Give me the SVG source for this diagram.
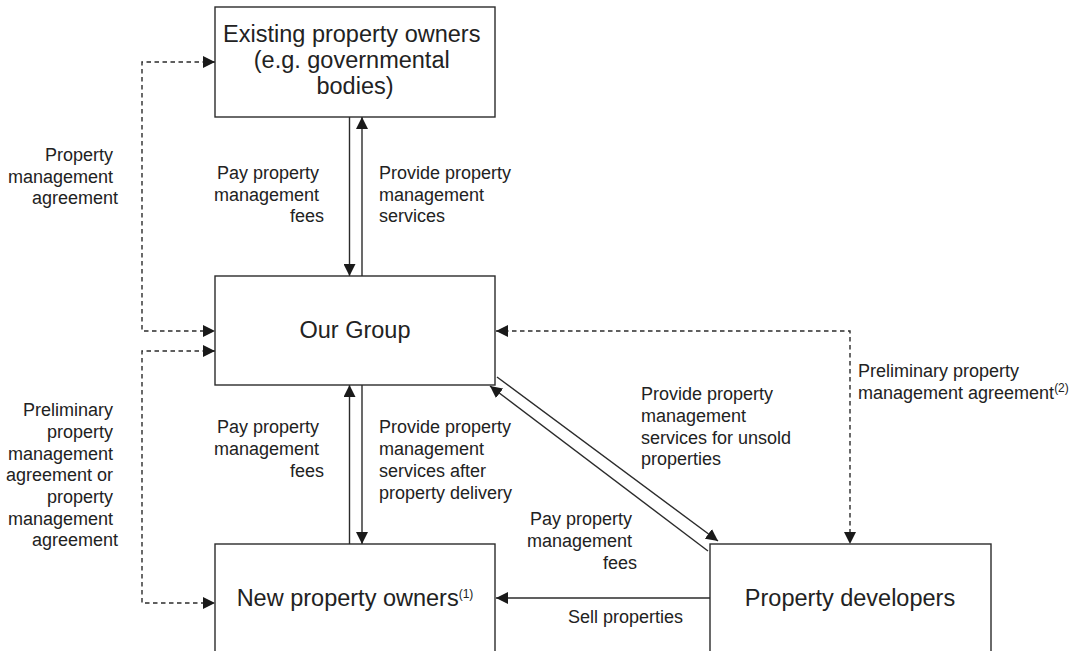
<svg xmlns="http://www.w3.org/2000/svg" width="1079" height="651" viewBox="0 0 1079 651">
  <style>
    .box { fill: #fff; stroke: #2b2b2b; stroke-width: 1.4; }
    .node { font-family: "Liberation Sans", Arial, sans-serif; font-size: 23.5px; fill: #222; }
    .lbl { font-family: "Liberation Sans", Arial, sans-serif; font-size: 18px; fill: #222; }
    .sup { font-size: 12px; }
    .solid { fill: none; stroke: #2b2b2b; stroke-width: 1.4; marker-end: url(#ah); }
    .dash { fill: none; stroke: #2b2b2b; stroke-width: 1.4; stroke-dasharray: 4.5 3.5; marker-start: url(#ah); marker-end: url(#ah); }
  </style>
  <defs>
    <marker id="ah" viewBox="0 0 12 12" markerWidth="12" markerHeight="12" refX="12" refY="6" orient="auto-start-reverse" markerUnits="userSpaceOnUse">
      <path d="M0,0 L12,6 L0,12 z" fill="#1a1a1a"/>
    </marker>
  </defs>
  <rect width="1079" height="651" fill="#fff"/>

  <!-- connectors -->
  <g id="connectors">
    <!-- existing owners <-> group -->
    <path class="solid" d="M349.5,117 V276"/>
    <path class="solid" d="M362,276 V117"/>
    <!-- group <-> new owners -->
    <path class="solid" d="M349.5,544 V385"/>
    <path class="solid" d="M362,385 V544"/>
    <!-- group <-> developers -->
    <path class="solid" d="M497,377 L718,541"/>
    <path class="solid" d="M708,551 L490,386"/>
    <!-- developers -> new owners -->
    <path class="solid" d="M710,598 H496"/>
    <!-- agreements -->
    <path class="dash" d="M215,62 H142 V331 H215"/>
    <path class="dash" d="M215,351 H142 V603 H215"/>
    <path class="dash" d="M496,331 H850 V544"/>
  </g>

  <g id="existing-owners">
    <rect class="box" x="215" y="7" width="280" height="110"/>
    <text class="node" text-anchor="middle">
      <tspan x="355" y="42">Existing property owners</tspan>
      <tspan x="355" y="68">(e.g. governmental</tspan>
      <tspan x="355" y="94">bodies)</tspan>
    </text>
  </g>

  <g id="our-group">
    <rect class="box" x="215" y="276" width="280" height="109"/>
    <text class="node" x="355" y="338" text-anchor="middle">Our Group</text>
  </g>

  <g id="new-owners">
    <rect class="box" x="215" y="544" width="280" height="120"/>
    <text class="node" x="355" y="606" text-anchor="middle">New property owners<tspan class="sup" dy="-8">(1)</tspan></text>
  </g>

  <g id="developers">
    <rect class="box" x="710" y="544" width="281" height="120"/>
    <text class="node" x="850" y="606" text-anchor="middle">Property developers</text>
  </g>

  <g id="labels">
    <text class="lbl" text-anchor="end">
      <tspan x="324" y="179">Pay property</tspan>
      <tspan x="324" y="200.5">management</tspan>
      <tspan x="324" y="222">fees</tspan>
    </text>
    <text class="lbl">
      <tspan x="379" y="179">Provide property</tspan>
      <tspan x="379" y="200.5">management</tspan>
      <tspan x="379" y="222">services</tspan>
    </text>
    <text class="lbl" text-anchor="end">
      <tspan x="118" y="161">Property</tspan>
      <tspan x="118" y="183">management</tspan>
      <tspan x="118" y="204">agreement</tspan>
    </text>
    <text class="lbl" text-anchor="end">
      <tspan x="118" y="416">Preliminary</tspan>
      <tspan x="118" y="438">property</tspan>
      <tspan x="118" y="459.5">management</tspan>
      <tspan x="118" y="481">agreement or</tspan>
      <tspan x="118" y="503">property</tspan>
      <tspan x="118" y="524.5">management</tspan>
      <tspan x="118" y="546">agreement</tspan>
    </text>
    <text class="lbl" text-anchor="end">
      <tspan x="324" y="433">Pay property</tspan>
      <tspan x="324" y="455">management</tspan>
      <tspan x="324" y="477">fees</tspan>
    </text>
    <text class="lbl">
      <tspan x="379" y="433">Provide property</tspan>
      <tspan x="379" y="455">management</tspan>
      <tspan x="379" y="477">services after</tspan>
      <tspan x="379" y="499">property delivery</tspan>
    </text>
    <text class="lbl">
      <tspan x="641" y="400">Provide property</tspan>
      <tspan x="641" y="422">management</tspan>
      <tspan x="641" y="443.5">services for unsold</tspan>
      <tspan x="641" y="465">properties</tspan>
    </text>
    <text class="lbl" text-anchor="end">
      <tspan x="637" y="525">Pay property</tspan>
      <tspan x="637" y="547">management</tspan>
      <tspan x="637" y="569">fees</tspan>
    </text>
    <text class="lbl" x="568" y="623">Sell properties</text>
    <text class="lbl">
      <tspan x="858" y="377">Preliminary property</tspan>
      <tspan x="858" y="399">management agreement<tspan class="sup" font-size="11" dy="-7">(2)</tspan></tspan>
    </text>
  </g>
</svg>
